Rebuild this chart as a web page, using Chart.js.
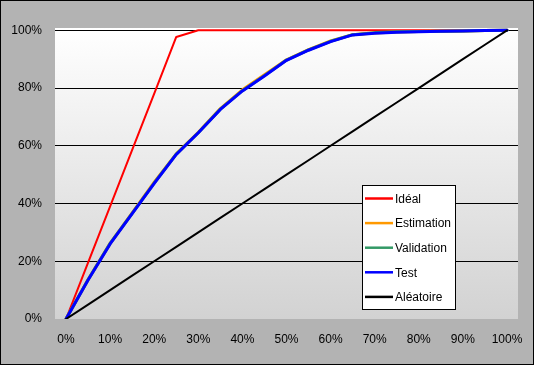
<!DOCTYPE html>
<html>
<head>
<meta charset="utf-8">
<script src="https://cdn.jsdelivr.net/npm/chart.js@4/dist/chart.umd.min.js"></script>
<style>
  html, body { margin: 0; padding: 0; background: #fff; }
  canvas { display: block; }
</style>
</head>
<body>
<canvas id="liftChart" width="536" height="371"></canvas>
<script>
// Courbes de gain (lift)
const categories = ['0%', '5%', '10%', '15%', '20%', '25%', '30%', '35%', '40%', '45%', '50%',
                    '55%', '60%', '65%', '70%', '75%', '80%', '85%', '90%', '95%', '100%'];
const ideal      = [0, 0.195, 0.39, 0.586, 0.781, 0.977, 1, 1, 1, 1, 1, 1, 1, 1, 1, 1, 1, 1, 1, 1, 1];
const estimation = [0, 0.137, 0.262, 0.368, 0.474, 0.572, 0.647, 0.729, 0.794, 0.846, 0.898, 0.933, 0.963, 0.985, 0.991, 0.994, 0.996, 0.997, 0.998, 0.999, 1];
const validation = [0, 0.136, 0.262, 0.366, 0.471, 0.571, 0.645, 0.727, 0.791, 0.843, 0.897, 0.932, 0.962, 0.985, 0.992, 0.995, 0.996, 0.997, 0.998, 0.999, 1];
const test       = [0, 0.135, 0.26, 0.365, 0.47, 0.57, 0.645, 0.726, 0.79, 0.842, 0.896, 0.931, 0.961, 0.984, 0.99, 0.993, 0.995, 0.997, 0.998, 0.999, 1];
const aleatoire  = [0, 0.05, 0.1, 0.15, 0.2, 0.25, 0.3, 0.35, 0.4, 0.45, 0.5, 0.55, 0.6, 0.65, 0.7, 0.75, 0.8, 0.85, 0.9, 0.95, 1];
const yTicks     = [0, 0.2, 0.4, 0.6, 0.8, 1];

const FONT = 'Liberation Sans, Arial, sans-serif';

// fond gris du cadre + dégradé de la zone de tracé
const backgroundPlugin = {
    id: 'background',
    beforeDraw(chart) {
        const ctx = chart.ctx;
        const a = chart.chartArea;
        ctx.save();
        ctx.fillStyle = '#ffffff';
        ctx.fillRect(0, 0, chart.width, chart.height);
        ctx.fillStyle = '#b3b3b3';
        ctx.fillRect(0, 0, 534, 365);
        ctx.strokeStyle = '#000';
        ctx.lineWidth = 1;
        ctx.strokeRect(0.5, 0.5, 533, 364);
        const g = ctx.createLinearGradient(0, a.top, 0, a.bottom);
        g.addColorStop(0, '#ffffff');
        g.addColorStop(1, '#d2d2d2');
        ctx.fillStyle = g;
        ctx.fillRect(a.left, a.top, a.right - a.left, a.bottom - a.top);
        ctx.restore();
    }
};

// légende encadrée à l'intérieur de la zone de tracé
const boxLegendPlugin = {
    id: 'boxLegend',
    afterDraw(chart) {
        const ctx = chart.ctx;
        const a = chart.chartArea;
        const x = a.left + 307, y = a.top + 157, w = 93, h = 124;
        ctx.save();
        ctx.fillStyle = '#fff';
        ctx.fillRect(x, y, w, h);
        ctx.strokeStyle = '#000';
        ctx.lineWidth = 1;
        ctx.strokeRect(x + 0.5, y + 0.5, w, h);
        ctx.font = '12px ' + FONT;
        ctx.textBaseline = 'middle';
        ctx.textAlign = 'left';
        chart.data.datasets.forEach(function(ds, i) {
            const cy = y + 13.5 + i * 24.6;
            ctx.strokeStyle = ds.borderColor;
            ctx.lineWidth = 2.5;
            ctx.beginPath();
            ctx.moveTo(x + 3, cy);
            ctx.lineTo(x + 31, cy);
            ctx.stroke();
            ctx.fillStyle = '#000';
            ctx.fillText(ds.label, x + 33, cy + 1);
        });
        ctx.restore();
    }
};

const ctx = document.getElementById('liftChart').getContext('2d');
const liftChart = new Chart(ctx, {
    type: 'line',
    data: {
        labels: categories,
        datasets: [
            { label: 'Idéal', data: ideal, borderColor: '#ff0000', borderWidth: 2, order: 5 },
            { label: 'Estimation', data: estimation, borderColor: '#ff9900', borderWidth: 3, order: 4 },
            { label: 'Validation', data: validation, borderColor: '#339966', borderWidth: 3, order: 3 },
            { label: 'Test', data: test, borderColor: '#0000ff', borderWidth: 3, order: 2 },
            { label: 'Aléatoire', data: aleatoire, borderColor: '#000000', borderWidth: 2, order: 1 }
        ]
    },
    options: {
        responsive: false,
        animation: false,
        layout: { padding: { top: 28, right: 18, left: 0, bottom: 0 } },
        elements: {
            point: { radius: 0 },
            line: { tension: 0, fill: false, borderCapStyle: 'round', borderJoinStyle: 'round' }
        },
        plugins: {
            legend: { display: false },
            tooltip: { enabled: false }
        },
        scales: {
            x: {
                offset: true,
                grid: { display: false, drawTicks: false },
                border: { display: false },
                afterFit(scale) { scale.height = 52; },
                ticks: {
                    autoSkip: false,
                    maxRotation: 0,
                    padding: 13,
                    color: '#000',
                    font: { family: FONT, size: 12 },
                    callback: function(value, index) {
                        return index % 2 === 0 ? categories[index] : null;
                    }
                }
            },
            y: {
                min: 0,
                max: 1.008,
                afterBuildTicks(scale) {
                    scale.ticks = yTicks.map(function(v) { return { value: v }; });
                },
                afterFit(scale) { scale.width = 55; },
                grid: {
                    drawTicks: false,
                    lineWidth: 1,
                    color: function(c) { return c.tick && c.tick.value === 0 ? 'rgba(0,0,0,0)' : '#000'; }
                },
                border: { display: false },
                ticks: {
                    padding: 13,
                    color: '#000',
                    font: { family: FONT, size: 12 },
                    callback: function(v) { return Math.round(v * 100) + '%'; }
                }
            }
        }
    },
    plugins: [backgroundPlugin, boxLegendPlugin]
});
</script>
</body>
</html>
